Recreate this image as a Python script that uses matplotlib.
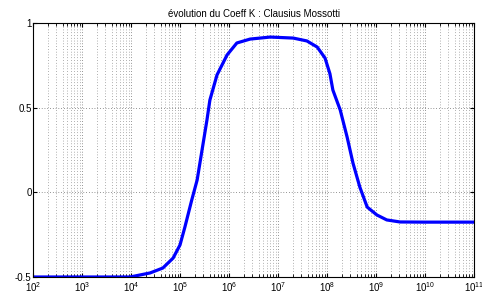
import numpy as np
import matplotlib
matplotlib.use("Agg")
import matplotlib.pyplot as plt
from matplotlib.ticker import LogLocator, FixedLocator

# frequency (log10) and Clausius-Mossotti factor K
logf = [2.0, 3.0, 3.98, 4.39, 4.65, 4.86, 5.0, 5.10, 5.24, 5.35, 5.45, 5.55,
        5.61, 5.755, 5.96, 6.16, 6.43, 6.84, 7.31, 7.59, 7.80, 7.96, 8.06,
        8.12, 8.27, 8.41, 8.53, 8.67, 8.82, 9.02, 9.22, 9.49, 10.0, 10.5, 11.0]
K = [-0.5, -0.5, -0.5, -0.476, -0.447, -0.388, -0.311, -0.205, -0.045, 0.073,
     0.25, 0.427, 0.545, 0.693, 0.811, 0.882, 0.905, 0.917, 0.911, 0.894,
     0.858, 0.793, 0.70, 0.604, 0.486, 0.327, 0.173, 0.031, -0.087, -0.134,
     -0.163, -0.175, -0.176, -0.176, -0.176]

freq = 10.0 ** np.array(logf)

plt.rcParams['font.family'] = ['Liberation Sans', 'DejaVu Sans']
fig = plt.figure(figsize=(4.82, 2.95), dpi=100)
ax = fig.add_axes([33/482, 1-277/295, 441/482, 254/295])

ax.semilogx(freq, K, color='#0000ff', linewidth=2.3, solid_joinstyle='round')
ax.set_xlim(1e2, 1e11)
ax.set_ylim(-0.5, 1)

ax.xaxis.set_major_locator(LogLocator(base=10, numticks=20))
ax.xaxis.set_minor_locator(LogLocator(base=10, subs=np.arange(2, 10), numticks=20))
ax.yaxis.set_major_locator(FixedLocator([-0.5, 0, 0.5, 1]))
ax.set_yticklabels(['-0.5', '0', '0.5', '1'])

ax.grid(True, which='major', linestyle=(0, (1, 3)), color='#333333', linewidth=0.5)
ax.grid(True, which='minor', axis='x', linestyle=(0, (1, 3)), color='#666666', linewidth=0.5)

ax.tick_params(which='both', direction='in', top=True, right=True, labelsize=7,
               pad=2)
ax.tick_params(which='major', length=3)
ax.tick_params(which='minor', length=2)
ax.tick_params(axis='y', pad=1)
for s in ax.spines.values():
    s.set_linewidth(0.8)

ax.set_title("évolution du Coeff K : Clausius Mossotti", fontsize=7, pad=4)

fig.savefig("out.png", dpi=100)
